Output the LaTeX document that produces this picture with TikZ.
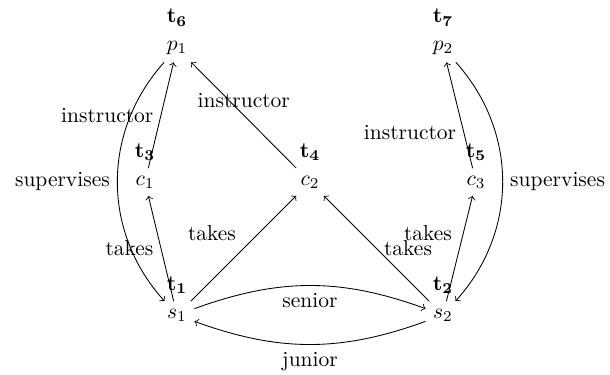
\documentclass[tikz,border=0pt]{standalone}
\begin{document}
\begin{tikzpicture}[x=0.4651pt,y=0.4651pt,>=to,
  ent/.style={inner sep=0.3333em},
  rel/.style={->},
  edgelbl/.style={inner sep=0.3333em}]
\useasboundingbox (0,0) rectangle (610,374);
\node[ent,label=above:{$\mathbf{t_6}$}] (p1) at (177,326) {$p_1$};
\node[ent,label=above:{$\mathbf{t_7}$}] (p2) at (443,326) {$p_2$};
\node[ent,label=above:{$\mathbf{t_3}$}] (c1) at (145,192) {$c_1$};
\node[ent,label=above:{$\mathbf{t_4}$}] (c2) at (310,192) {$c_2$};
\node[ent,label=above:{$\mathbf{t_5}$}] (c3) at (476,192) {$c_3$};
\node[ent,label=above:{$\mathbf{t_1}$}] (s1) at (177,59) {$s_1$};
\node[ent,label=above:{$\mathbf{t_2}$}] (s2) at (443,59) {$s_2$};
\draw[rel] (c1) -- node[edgelbl,left] (l1) {instructor} (p1);
\draw[rel] (c2) -- node[edgelbl,above] (l2) {instructor} (p1);
\draw[rel] (c3) -- node[edgelbl,pos=0.34,left] (l3) {instructor} (p2);
\draw[rel] (p1) to[bend right=42] node[edgelbl,left] (l4) {supervises} (s1);
\draw[rel] (p2) to[bend left=42] node[edgelbl,right] (l5) {supervises} (s2);
\draw[rel] (s1) -- node[edgelbl,left] (l6) {takes} (c1);
\draw[rel] (s1) -- node[edgelbl,above left] (l7) {takes} (c2);
\draw[rel] (s2) -- node[edgelbl,right] (l8) {takes} (c2);
\draw[rel] (s2) -- node[edgelbl,above left] (l9) {takes} (c3);
\draw[rel] (s1) to[bend left=20] node[edgelbl,below] (l10) {senior} (s2);
\draw[rel] (s2) to[bend left=20] node[edgelbl,below] (l11) {junior} (s1);
\end{tikzpicture}
\end{document}
